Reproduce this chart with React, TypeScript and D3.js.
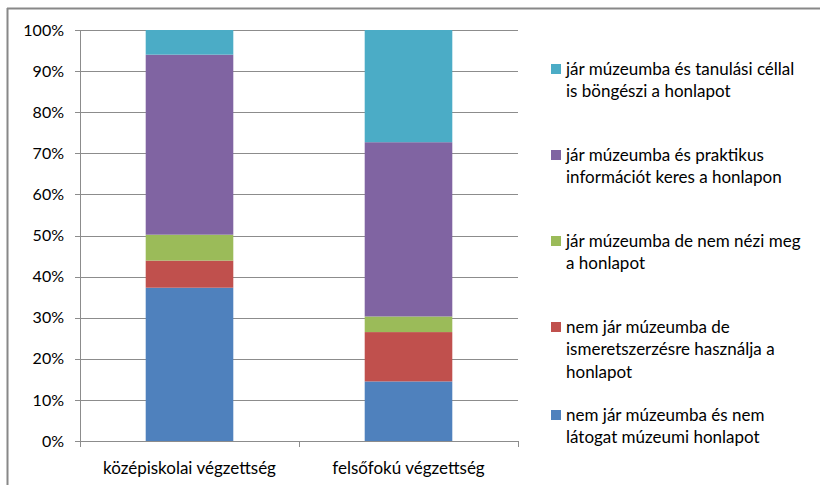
import React from "react";
import * as d3 from "d3";

const categories = ["középiskolai végzettség", "felsőfokú végzettség"];
const seriesNames = [
  "nem jár múzeumba és nem látogat múzeumi honlapot",
  "nem jár múzeumba de ismeretszerzésre használja a honlapot",
  "jár múzeumba de nem nézi meg a honlapot",
  "jár múzeumba és praktikus információt keres a honlapon",
  "jár múzeumba és tanulási céllal is böngészi a honlapot",
];
const legendLines = [
  ["nem jár múzeumba és nem", "látogat múzeumi honlapot"],
  ["nem jár múzeumba de", "ismeretszerzésre használja a", "honlapot"],
  ["jár múzeumba de nem nézi meg", "a honlapot"],
  ["jár múzeumba és praktikus", "információt keres a honlapon"],
  ["jár múzeumba és tanulási céllal", "is böngészi a honlapot"],
];
const colors = ["#4f81bd", "#c0504d", "#9bbb59", "#8064a2", "#4bacc6"];
const values = [
  [37.3, 14.5],
  [6.6, 12.0],
  [6.3, 3.8],
  [43.8, 42.4],
  [6.0, 27.3],
];
const yTicks = [0, 10, 20, 30, 40, 50, 60, 70, 80, 90, 100];

export default function App() {
  const W = 820, H = 485;
  const left = 80, right = 518, top = 30, bottom = 441;
  const x = d3.scaleBand().domain(categories).range([left, right]).paddingInner(0.6).paddingOuter(0.3);
  const y = d3.scaleLinear().domain([0, 100]).range([bottom, top]);
  const rows = categories.map((c, i) => {
    const r: any = { cat: c };
    seriesNames.forEach((s, j) => (r[s] = values[j][i]));
    return r;
  });
  const stacked = d3.stack().keys(seriesNames)(rows);
  const font = "Lato, 'Open Sans', sans-serif";
  const legendY = [415, 327, 241, 155, 69];
  return (
    <svg width={W} height={H} style={{ position: "absolute", left: 0, top: 0 }} fontFamily={font}>
      <rect x={0} y={0} width={W} height={H} fill="#fff" />
      <line x1={7.5} y1={8} x2={7.5} y2={H} stroke="#888" strokeWidth={2} />
      <line x1={7} y1={8.5} x2={W} y2={8.5} stroke="#888" strokeWidth={2} />
      {yTicks.map((t) => (
        <g key={t}>
          <line x1={left - 5} x2={right} y1={Math.round(y(t)) + 0.5} y2={Math.round(y(t)) + 0.5} stroke="#8c8c8c" strokeWidth={1} />
          <text x={64} y={y(t)} dy="0.35em" textAnchor="end" fontSize={16} fill="#000">{t}%</text>
        </g>
      ))}
      <line x1={left + 0.5} x2={left + 0.5} y1={top} y2={bottom} stroke="#8c8c8c" />
      {[left, (left + right) / 2, right].map((v, i) => (
        <line key={i} x1={Math.round(v) + 0.5} x2={Math.round(v) + 0.5} y1={bottom} y2={bottom + 6} stroke="#8c8c8c" />
      ))}
      {stacked.map((s, j) => (
        <g key={j} fill={colors[j]}>
          {s.map((d, i) => (
            <rect key={i} x={x(categories[i])} y={y(d[1])} width={x.bandwidth()} height={y(d[0]) - y(d[1])} />
          ))}
        </g>
      ))}
      {categories.map((c) => (
        <text key={c} x={(x(c) as number) + x.bandwidth() / 2} y={468} dy="0.35em" textAnchor="middle" fontSize={17} fill="#000">{c}</text>
      ))}
      {legendLines.map((lines, j) => (
        <g key={j}>
          <rect x={551} y={legendY[j] - 5} width={10} height={10} fill={colors[j]} />
          {lines.map((l, k) => (
            <text key={k} x={566} y={legendY[j] + k * 22.5} dy="0.35em" fontSize={17} fill="#000">{l}</text>
          ))}
        </g>
      ))}
    </svg>
  );
}
